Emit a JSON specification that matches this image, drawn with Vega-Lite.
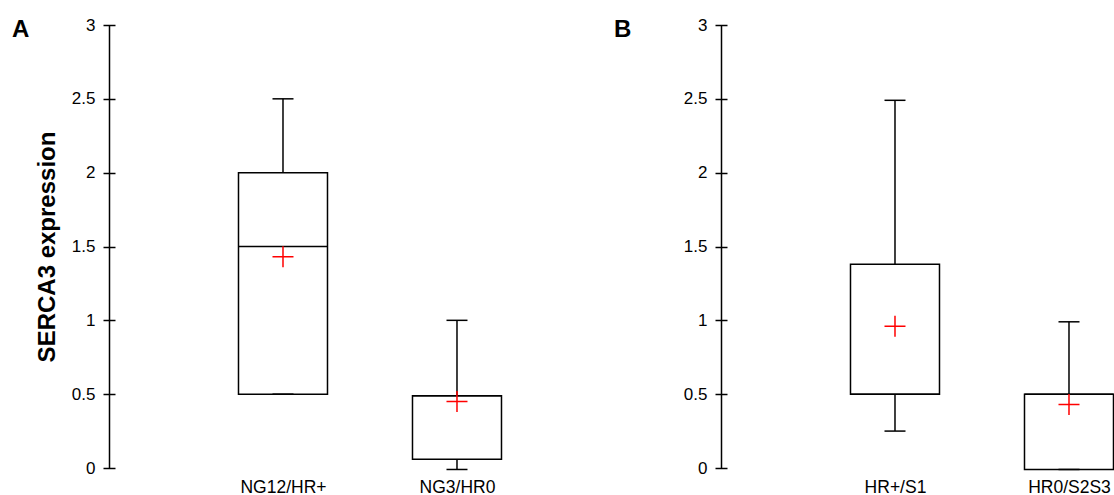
{
  "$schema": "https://vega.github.io/schema/vega-lite/v6.json",
  "background": "white",
  "padding": {"left": 12, "top": 16, "right": 0, "bottom": 0},
  "datasets": {
    "A": [
      {"group": "NG12/HR+", "low": 0.5, "q1": 0.5, "median": 1.5, "q3": 2.0, "high": 2.5, "mean": 1.43},
      {"group": "NG3/HR0", "low": -0.01, "q1": 0.06, "median": 0.49, "q3": 0.49, "high": 1.0, "mean": 0.45}
    ],
    "B": [
      {"group": "HR+/S1", "low": 0.25, "q1": 0.5, "median": 0.5, "q3": 1.38, "high": 2.49, "mean": 0.96},
      {"group": "HR0/S2S3", "low": -0.01, "q1": -0.01, "median": 0.5, "q3": 0.5, "high": 0.99, "mean": 0.43}
    ]
  },
  "spacing": 65,
  "align": "none",
  "hconcat": [
    {
      "data": {"name": "A"},
      "width": 440,
      "height": 443,
      "title": {"text": "A", "anchor": "start", "frame": "group", "dx": -97, "dy": 25, "offset": -20, "baseline": "alphabetic", "fontSize": 24, "fontWeight": "bold", "font": "Liberation Sans", "color": "black"},
      "encoding": {
        "x": {"field": "group", "type": "nominal", "sort": null,
              "scale": {"type": "point", "padding": 0.7644, "align": 0.6541},
              "axis": {"title": null, "domain": false, "ticks": false, "tickSize": 0, "labelAngle": 0, "labelPadding": 10, "labelFontSize": 17.5}}
      },
      "layer": [
        {"mark": {"type": "rule", "stroke": "black", "strokeWidth": 1.5},
         "encoding": {
           "y": {"field": "low", "type": "quantitative", "scale": {"domain": [0, 3], "nice": false, "zero": false},
                 "axis": {"orient": "left", "domain": true, "ticks": false, "labels": false, "title": null, "grid": false}},
           "y2": {"field": "high"}}},
        {"mark": {"type": "bar", "fill": "white", "stroke": "black", "strokeWidth": 1.5, "width": 89},
         "encoding": {
           "y": {"field": "q1", "type": "quantitative", "scale": {"domain": [0, 3], "nice": false, "zero": false},
                 "axis": {"orient": "left", "domain": false, "ticks": true, "tickSize": 12, "offset": -6, "labelPadding": 8,
                          "values": [0, 0.5, 1, 1.5, 2, 2.5, 3], "format": "~g", "title": "SERCA3 expression", "titlePadding": 12,
                          "titleFontSize": 24, "titleFontWeight": "bold", "grid": false}},
           "y2": {"field": "q3"}}},
        {"mark": {"type": "tick", "color": "black", "size": 89, "thickness": 1.5, "opacity": 1},
         "encoding": {"y": {"field": "median", "type": "quantitative", "axis": null}}},
        {"mark": {"type": "tick", "color": "black", "size": 21, "thickness": 1.5, "opacity": 1},
         "encoding": {"y": {"field": "high", "type": "quantitative", "axis": null}}},
        {"mark": {"type": "tick", "color": "black", "size": 21, "thickness": 1.5, "opacity": 1},
         "encoding": {"y": {"field": "low", "type": "quantitative", "axis": null}}},
        {"mark": {"type": "point", "shape": "M-1,0L1,0M0,-1L0,1", "size": 441, "filled": false, "color": "#ff0000", "strokeWidth": 1.5, "opacity": 1},
         "encoding": {"y": {"field": "mean", "type": "quantitative", "axis": null}}}
      ],
      "resolve": {"axis": {"y": "independent"}}
    },
    {
      "data": {"name": "B"},
      "width": 393,
      "height": 443,
      "title": {"text": "B", "anchor": "start", "frame": "group", "dx": -107, "dy": 25, "offset": -20, "baseline": "alphabetic", "fontSize": 24, "fontWeight": "bold", "font": "Liberation Sans", "color": "black"},
      "encoding": {
        "x": {"field": "group", "type": "nominal", "sort": null,
              "scale": {"type": "point", "padding": 0.6293, "align": 0.7945},
              "axis": {"title": null, "domain": false, "ticks": false, "tickSize": 0, "labelAngle": 0, "labelPadding": 10, "labelFontSize": 17.5}}
      },
      "layer": [
        {"mark": {"type": "rule", "stroke": "black", "strokeWidth": 1.5},
         "encoding": {
           "y": {"field": "low", "type": "quantitative", "scale": {"domain": [0, 3], "nice": false, "zero": false},
                 "axis": {"orient": "left", "domain": true, "ticks": false, "labels": false, "title": null, "grid": false}},
           "y2": {"field": "high"}}},
        {"mark": {"type": "bar", "fill": "white", "stroke": "black", "strokeWidth": 1.5, "width": 89},
         "encoding": {
           "y": {"field": "q1", "type": "quantitative", "scale": {"domain": [0, 3], "nice": false, "zero": false},
                 "axis": {"orient": "left", "domain": false, "ticks": true, "tickSize": 12, "offset": -6, "labelPadding": 8,
                          "values": [0, 0.5, 1, 1.5, 2, 2.5, 3], "format": "~g", "title": null, "grid": false}},
           "y2": {"field": "q3"}}},
        {"mark": {"type": "tick", "color": "black", "size": 89, "thickness": 1.5, "opacity": 1},
         "encoding": {"y": {"field": "median", "type": "quantitative", "axis": null}}},
        {"mark": {"type": "tick", "color": "black", "size": 21, "thickness": 1.5, "opacity": 1},
         "encoding": {"y": {"field": "high", "type": "quantitative", "axis": null}}},
        {"mark": {"type": "tick", "color": "black", "size": 21, "thickness": 1.5, "opacity": 1},
         "encoding": {"y": {"field": "low", "type": "quantitative", "axis": null}}},
        {"mark": {"type": "point", "shape": "M-1,0L1,0M0,-1L0,1", "size": 441, "filled": false, "color": "#ff0000", "strokeWidth": 1.5, "opacity": 1},
         "encoding": {"y": {"field": "mean", "type": "quantitative", "axis": null}}}
      ],
      "resolve": {"axis": {"y": "independent"}}
    }
  ],
  "config": {
    "view": {"stroke": null},
    "font": "Liberation Sans",
    "axis": {"domainColor": "black", "tickColor": "black", "labelColor": "black", "titleColor": "black",
             "domainWidth": 1.5, "tickWidth": 1.5, "labelFont": "Liberation Sans", "titleFont": "Liberation Sans",
             "labelFontSize": 17, "grid": false, "labelFlush": false, "labelOverlap": false}
  }
}
